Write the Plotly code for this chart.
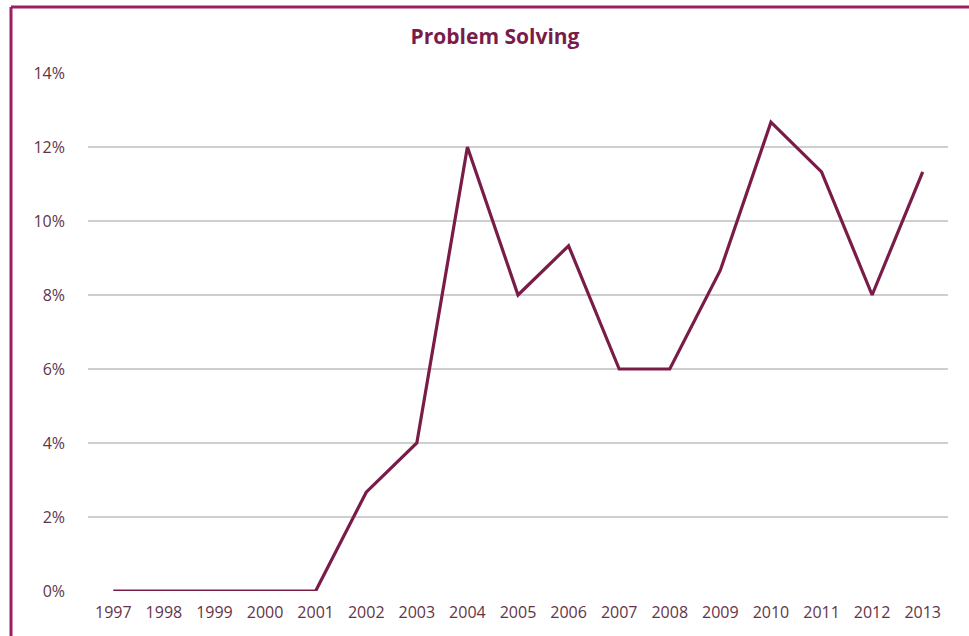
import plotly.graph_objects as go

years = ["1997", "1998", "1999", "2000", "2001", "2002", "2003", "2004", "2005",
         "2006", "2007", "2008", "2009", "2010", "2011", "2012", "2013"]
values = [0, 0, 0, 0, 0, 2.67, 4, 12, 8, 9.33, 6, 6, 8.67, 12.67, 11.33, 8, 11.33]
y_ticks = [0, 2, 4, 6, 8, 10, 12, 14]
y_tick_labels = [f"{v}%" for v in y_ticks]

W, H = 969, 636
L, R, T, B = 88, 21, 73, 45  # plot area 88..948, 73..591

FONT = "Open Sans, Lato, sans-serif"

fig = go.Figure()
fig.add_trace(go.Scatter(
    x=years, y=values, mode="lines",
    line=dict(color="#7a1c48", width=3.2),
    hoverinfo="skip", showlegend=False,
))

pw = W - L - R
ph = H - T - B
fig.update_layout(
    width=W, height=H,
    margin=dict(l=L, r=R, t=T, b=B),
    paper_bgcolor="white", plot_bgcolor="white",
    font=dict(family=FONT, color="#633449", size=16),
    title=dict(text="<b>Problem Solving</b>", x=495 / W, xanchor="center",
               y=1 - 37 / H, yanchor="middle",
               font=dict(size=21, color="#7a1c4a", family=FONT)),
    xaxis=dict(type="category", showgrid=False, zeroline=False, showline=False,
               ticks="", tickfont=dict(size=16), range=[-0.5, len(years) - 0.5],
               ticklabelstandoff=10),
    yaxis=dict(range=[0, 14], tickvals=y_ticks, ticktext=y_tick_labels,
               showgrid=True, gridcolor="#cfcfcf", gridwidth=1.5,
               zeroline=False, showline=False, ticks="", ticklabelstandoff=22,
               tickfont=dict(size=16)),
)

left_x = (11 - L) / pw
top_y = (H - B - 7) / ph
bottom_y = (H - B - H) / ph
right_x = (W - L) / pw
fig.add_shape(type="line", xref="paper", yref="paper", x0=left_x, x1=left_x,
              y0=bottom_y, y1=top_y, line=dict(color="#9c1f63", width=3))
fig.add_shape(type="line", xref="paper", yref="paper", x0=left_x, x1=right_x,
              y0=top_y, y1=top_y, line=dict(color="#9c1f63", width=3))

fig.write_html("out.html", config={"displayModeBar": False},
               post_script="document.body.style.margin='0';document.body.style.overflow='hidden';")
